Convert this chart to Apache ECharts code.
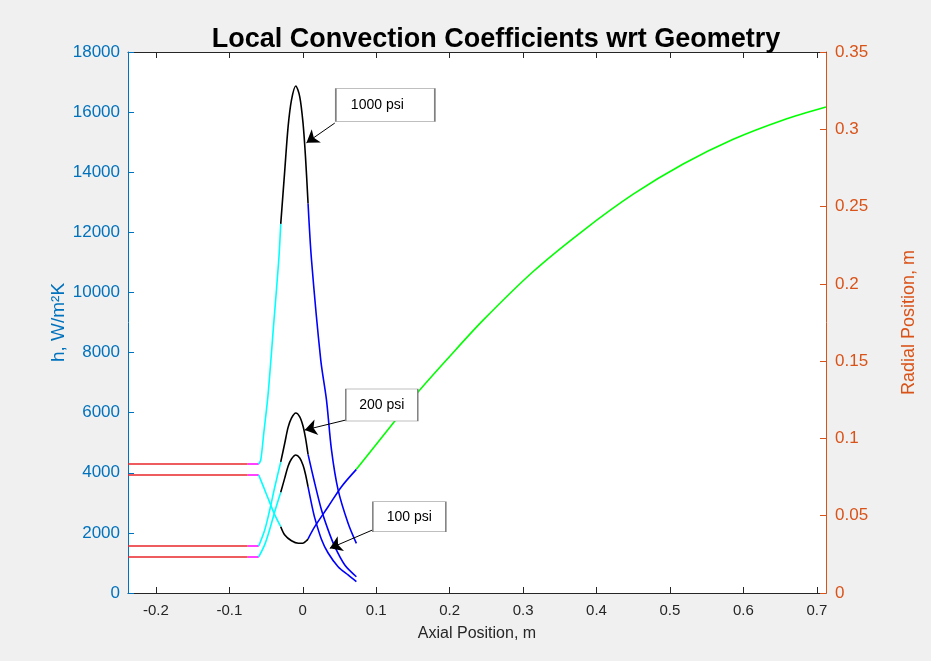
<!DOCTYPE html>
<html>
<head>
<meta charset="utf-8">
<style>
  html, body { margin: 0; padding: 0; background: #f0f0f0; }
  #main { width: 931px; height: 661px; }
</style>
<script src="https://cdn.jsdelivr.net/npm/echarts/dist/echarts.min.js"></script>
</head>
<body>
<div id="main"></div>
<script>
// tick labels
var xTicks = [-0.2, -0.1, 0, 0.1, 0.2, 0.3, 0.4, 0.5, 0.6, 0.7];

// 1000 psi, h (W/m2K) vs axial position (m), one array per colour segment
var psi1000Red = [[-0.238, 4290], [-0.075, 4290]];
var psi1000Magenta = [[-0.075, 4290], [-0.060, 4290]];
var psi1000Cyan = [[-0.060, 4290], [-0.0572, 4425], [-0.0531, 5320], [-0.0473, 6590], [-0.0395, 8980], [-0.0327, 11080], [-0.030, 12280]];
var psi1000Black = [[-0.030, 12280], [-0.0245, 14070], [-0.020, 15510], [-0.0154, 16400], [-0.0095, 16870], [-0.0041, 16510], [0.0004, 15620], [0.0037, 14510], [0.0072, 12960]];
var psi1000Blue = [[0.0072, 12960], [0.0119, 11080], [0.0245, 7750], [0.0323, 6420], [0.0391, 4760], [0.0481, 3430], [0.0617, 2320], [0.073, 1650]];

// 200 psi
var psi200Red = [[-0.238, 1563], [-0.075, 1563]];
var psi200Magenta = [[-0.075, 1563], [-0.060, 1563]];
var psi200Cyan = [[-0.060, 1563], [-0.0518, 2096], [-0.045, 2761], [-0.0381, 3526], [-0.030, 4360]];
var psi200Black = [[-0.030, 4360], [-0.0245, 4990], [-0.020, 5510], [-0.0154, 5820], [-0.0095, 5990], [-0.0041, 5860], [0.0004, 5550], [0.0037, 5160], [0.0072, 4610]];
var psi200Blue = [[0.0072, 4610], [0.0163, 3650], [0.0255, 2760], [0.0345, 2100], [0.0436, 1540], [0.0572, 930], [0.073, 540]];

// 100 psi
var psi100Red = [[-0.238, 1200], [-0.075, 1200]];
var psi100Magenta = [[-0.075, 1200], [-0.060, 1200]];
var psi100Cyan = [[-0.060, 1200], [-0.0518, 1610], [-0.045, 2120], [-0.0381, 2710], [-0.030, 3350]];
var psi100Black = [[-0.030, 3350], [-0.0245, 3830], [-0.020, 4220], [-0.0154, 4460], [-0.0095, 4590], [-0.0041, 4490], [0.0004, 4250], [0.0037, 3950], [0.0072, 3530]];
var psi100Blue = [[0.0072, 3530], [0.0125, 2900], [0.0163, 2500], [0.0255, 1780], [0.0345, 1330], [0.0481, 875], [0.0617, 600], [0.073, 380]];

// nozzle contour, radial position (m) vs axial position (m)
var wallRed = [[-0.238, 0.0763], [-0.075, 0.0763]];
var wallMagenta = [[-0.075, 0.0763], [-0.060, 0.0763]];
var wallCyan = [[-0.060, 0.0763], [-0.0536, 0.0688], [-0.0473, 0.0613], [-0.0381, 0.0505], [-0.030, 0.0429]];
var wallBlack = [[-0.030, 0.0429], [-0.0245, 0.0375], [-0.0154, 0.0338], [-0.006, 0.0322], [0.0, 0.0322], [0.005, 0.0338], [0.0072, 0.0350]];
var wallBlue = [[0.0072, 0.0350], [0.0163, 0.0429], [0.0345, 0.0558], [0.0527, 0.0688], [0.073, 0.0800]];
var wallGreen = [[0.073, 0.0800], [0.12, 0.1080], [0.157, 0.1300], [0.20, 0.1530], [0.2456, 0.1765], [0.3138, 0.2080], [0.3819, 0.2345], [0.45, 0.2580], [0.518, 0.2775], [0.5862, 0.2935], [0.6544, 0.3060], [0.7125, 0.3144]];

var myChart = echarts.init(document.getElementById('main'));

var font = 'Liberation Sans, Arial, Helvetica, sans-serif';

function seg(data, color, yIdx) {
    return {
        type: 'line',
        data: data,
        yAxisIndex: yIdx,
        showSymbol: false,
        smooth: 0.3,
        silent: true,
        z: 3,
        lineStyle: { color: color, width: 1.6 },
        itemStyle: { color: color }
    };
}

var RED = '#e8262a', MAG = '#ff00ff', CYAN = '#00ffff', BLACK = '#000000', BLUE = '#0000ff', GREEN = '#00ff00';

var series = [
    seg(psi1000Red, RED, 0), seg(psi1000Magenta, MAG, 0), seg(psi1000Cyan, CYAN, 0), seg(psi1000Black, BLACK, 0), seg(psi1000Blue, BLUE, 0),
    seg(psi200Red, RED, 0), seg(psi200Magenta, MAG, 0), seg(psi200Cyan, CYAN, 0), seg(psi200Black, BLACK, 0), seg(psi200Blue, BLUE, 0),
    seg(psi100Red, RED, 0), seg(psi100Magenta, MAG, 0), seg(psi100Cyan, CYAN, 0), seg(psi100Black, BLACK, 0), seg(psi100Blue, BLUE, 0),
    seg(wallRed, RED, 1), seg(wallMagenta, MAG, 1), seg(wallCyan, CYAN, 1), seg(wallBlack, BLACK, 1), seg(wallBlue, BLUE, 1), seg(wallGreen, GREEN, 1),
    {
        // text boxes and arrows
        type: 'line',
        data: [],
        yAxisIndex: 0,
        z: 2,
        silent: true,
        markPoint: {
            symbol: 'rect',
            itemStyle: { color: '#ffffff', borderColor: '#808080', borderWidth: 1 },
            label: { show: true, position: 'inside', color: '#000', fontSize: 14, fontFamily: font },
            data: [
                { coord: [0.1124, 16234], symbolSize: [99, 33], label: { formatter: '1000 psi', offset: [-8, 0] } },
                { coord: [0.1076, 6254], symbolSize: [72, 32], label: { formatter: '200 psi' } },
                { coord: [0.1451, 2538], symbolSize: [73, 30], label: { formatter: '100 psi' } }
            ]
        },
        markLine: {
            symbol: ['none', 'arrow'],
            symbolSize: 12,
            label: { show: false },
            lineStyle: { color: '#000', width: 1, type: 'solid' },
            data: [
                [{ coord: [0.0436, 15636] }, { coord: [0.005, 14980] }],
                [{ coord: [0.0586, 5755] }, { coord: [0.0027, 5422] }],
                [{ coord: [0.0949, 2096] }, { coord: [0.0368, 1487] }]
            ]
        }
    }
];

function plain(v) { return String(v); }

var option = {
    animation: false,
    backgroundColor: '#f0f0f0',
    textStyle: { fontFamily: font },
    title: {
        text: 'Local Convection Coefficients wrt Geometry',
        left: 491,
        textAlign: 'center',
        top: 21,
        textStyle: { fontSize: 27, fontWeight: 'bold', color: '#000', fontFamily: font }
    },
    grid: {
        left: 128,
        right: 105,
        top: 52,
        bottom: 68,
        show: true,
        backgroundColor: '#ffffff',
        borderWidth: 0
    },
    xAxis: [
        {
            type: 'value',
            min: -0.238,
            max: 0.7125,
            position: 'bottom',
            name: 'Axial Position, m',
            nameLocation: 'middle',
            nameGap: 33,
            nameTextStyle: { fontSize: 16, color: '#262626' },
            axisLine: { show: true, onZero: false, lineStyle: { color: '#262626', width: 1 } },
            axisTick: { inside: true, length: 6, customValues: xTicks, lineStyle: { color: '#262626' } },
            axisLabel: { customValues: xTicks, color: '#262626', fontSize: 15, margin: 10, formatter: plain },
            splitLine: { show: false }
        },
        {
            type: 'value',
            min: -0.238,
            max: 0.7125,
            position: 'top',
            axisLine: { show: true, onZero: false, lineStyle: { color: '#262626', width: 1 } },
            axisTick: { inside: true, length: 6, customValues: xTicks, lineStyle: { color: '#262626' } },
            axisLabel: { show: false },
            splitLine: { show: false }
        }
    ],
    yAxis: [
        {
            type: 'value',
            min: 0,
            max: 18000,
            interval: 2000,
            position: 'left',
            name: 'h, W/m²K',
            nameLocation: 'middle',
            nameRotate: 90,
            nameGap: 60,
            nameMoveOverlap: false,
            nameTextStyle: { fontSize: 19, color: '#0072bd' },
            axisLine: { show: true, onZero: false, lineStyle: { color: '#0072bd', width: 1 } },
            axisTick: { inside: true, length: 6, lineStyle: { color: '#0072bd' } },
            axisLabel: { color: '#0072bd', fontSize: 17, margin: 8, formatter: plain },
            splitLine: { show: false }
        },
        {
            type: 'value',
            min: 0,
            max: 0.35,
            interval: 0.05,
            position: 'right',
            name: 'Radial Position, m',
            nameLocation: 'middle',
            nameRotate: 90,
            nameGap: 74,
            nameTextStyle: { fontSize: 18, color: '#d95319' },
            axisLine: { show: true, onZero: false, lineStyle: { color: '#d95319', width: 1 } },
            axisTick: { inside: true, length: 6, lineStyle: { color: '#d95319' } },
            axisLabel: { color: '#d95319', fontSize: 17, margin: 9, formatter: plain },
            splitLine: { show: false }
        }
    ],
    series: series
};

myChart.setOption(option);
</script>
</body>
</html>
